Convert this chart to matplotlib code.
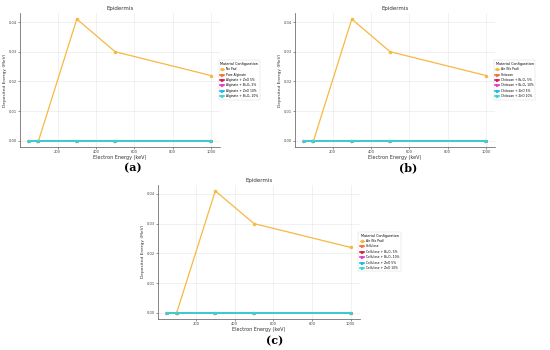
import matplotlib

matplotlib.use("Agg")
import matplotlib.pyplot as plt

# electron energies (keV)
energies = [50, 100, 300, 500, 1000]
no_pad_energies = [100, 300, 500, 1000]
no_pad_dep = [0.0, 0.041, 0.030, 0.022]
pad_dep = [0.0, 0.0, 0.0, 0.0, 0.0]

labels_a = ["No Pad", "Pure Alginate", "Alginate + ZnO 5%", "Alginate + Bi₂O₃ 5%",
            "Alginate + ZnO 10%", "Alginate + Bi₂O₃ 10%"]
labels_b = ["Air (No Pad)", "Chitosan", "Chitosan + Bi₂O₃ 5%", "Chitosan + Bi₂O₃ 10%",
            "Chitosan + ZnO 5%", "Chitosan + ZnO 10%"]
labels_c = ["Air (No Pad)", "Cellulose", "Cellulose + Bi₂O₃ 5%", "Cellulose + Bi₂O₃ 10%",
            "Cellulose + ZnO 5%", "Cellulose + ZnO 10%"]

colors = ["#f5b942", "#f2703a", "#d81e4e", "#e23fc4", "#1cb8e8", "#3fd3cc"]
markers = ["o", ">", ">", ">", ">", ">"]

fig = plt.figure(figsize=(5.5, 3.5), dpi=100)


def panel(rect, labels, tag, tag_xy):
    ax = fig.add_axes(rect)
    ax.plot(no_pad_energies, no_pad_dep, color=colors[0], marker=markers[0],
            markersize=1.5, linewidth=0.9, label=labels[0])
    for lab, c, m in zip(labels[1:], colors[1:], markers[1:]):
        ax.plot(energies, pad_dep, color=c, marker=m, markersize=1.5,
                linewidth=1.2, label=lab)
    ax.set_title("Epidermis", fontsize=4, pad=2, color="#333")
    ax.set_xlabel("Electron Energy (keV)", fontsize=3.5, labelpad=1, color="#333")
    ax.set_ylabel("Deposited Energy (MeV)", fontsize=3.2, labelpad=1, color="#333")
    ax.set_xticks([200, 400, 600, 800, 1000])
    ax.set_yticks([0.0, 0.01, 0.02, 0.03, 0.04])
    ax.set_yticklabels(["0.00", "0.01", "0.02", "0.03", "0.04"])
    ax.tick_params(labelsize=2.6, length=1.2, width=0.4, pad=0.8, colors="#444")
    ax.grid(True, color="#e6e6e6", linewidth=0.4)
    for s in ["top", "right"]:
        ax.spines[s].set_visible(False)
    for s in ["left", "bottom"]:
        ax.spines[s].set_linewidth(0.5)
        ax.spines[s].set_color("#555")
    leg = ax.legend(title="Material Configuration", loc="center left",
                    bbox_to_anchor=(0.985, 0.5), fontsize=2.2, title_fontsize=2.4,
                    frameon=True, handlelength=1.4, borderpad=0.5, labelspacing=0.45,
                    handletextpad=0.6)
    leg.get_frame().set_linewidth(0.3)
    fig.text(tag_xy[0], tag_xy[1], tag, fontsize=8, fontweight="bold",
             family="DejaVu Serif", ha="center", va="center")
    return ax


panel([0.036, 0.58, 0.364, 0.383], labels_a, "(a)", (0.242, 0.52))
panel([0.536, 0.58, 0.364, 0.383], labels_b, "(b)", (0.742, 0.52))
panel([0.287, 0.089, 0.367, 0.383], labels_c, "(c)", (0.5, 0.026))

fig.savefig("out.png", dpi=100)
